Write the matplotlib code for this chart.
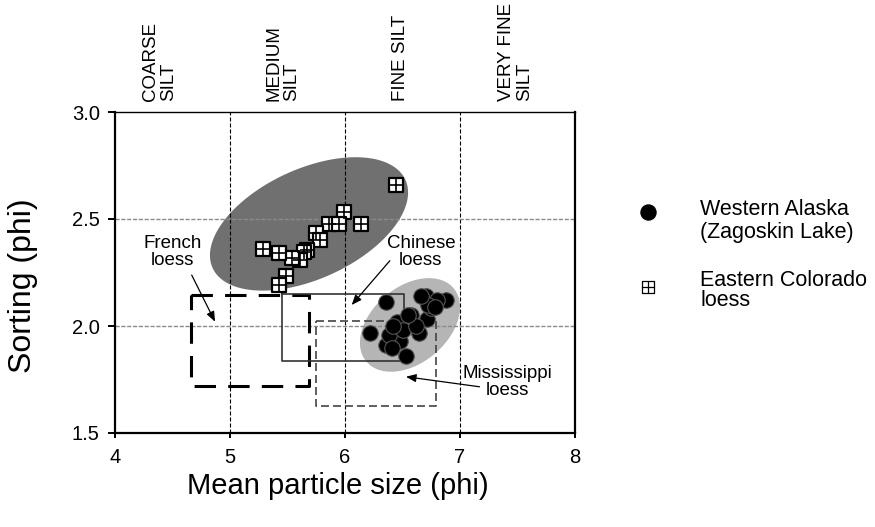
import numpy as np
import matplotlib.pyplot as plt

plt.rcParams['font.family'] = ['Liberation Sans', 'DejaVu Sans']

# Western Alaska (Zagoskin Lake) samples: mean size vs sorting, phi units
alaska_x = [6.36, 6.22, 6.53, 6.70, 6.88, 6.80, 6.57, 6.45, 6.71, 6.64, 6.36,
            6.48, 6.38, 6.50, 6.75, 6.62, 6.42, 6.41, 6.72, 6.78, 6.66, 6.55]
alaska_y = [2.11, 1.965, 1.86, 2.14, 2.12, 2.12, 2.05, 2.02, 2.035, 1.965, 1.91,
            1.93, 1.96, 1.98, 2.085, 2.0, 2.0, 1.895, 2.10, 2.09, 2.14, 2.05]

# Eastern Colorado loess samples
colorado_x = [6.44, 5.99, 5.86, 5.95, 6.14, 5.75, 5.78, 5.67, 5.64, 5.61,
              5.54, 5.43, 5.29, 5.49, 5.43]
colorado_y = [2.66, 2.535, 2.475, 2.475, 2.475, 2.435, 2.40, 2.355, 2.345, 2.31,
              2.32, 2.34, 2.36, 2.235, 2.19]

size_classes = ["COARSE\nSILT", "MEDIUM\nSILT", "FINE SILT", "VERY FINE\nSILT"]
class_pos = [4.39, 5.46, 6.48, 7.48]

x_ticks = [4, 5, 6, 7, 8]
y_ticks = [1.5, 2.0, 2.5, 3.0]

# loess fields as (xmin, xmax, ymin, ymax)
french = (4.66, 5.69, 1.72, 2.145)
chinese = (5.45, 6.51, 1.835, 2.15)
mississippi = (5.75, 6.79, 1.625, 2.025)

# envelope ellipses: centre (data), semi-axes (pixels), tilt (deg)
colorado_env = (5.687, 2.477, 106, 55, 24.6)
alaska_env = (6.565, 2.005, 57, 38, 40)

W, H, DPI = 875, 527, 100
fig = plt.figure(figsize=(W / DPI, H / DPI), dpi=DPI)
ax = fig.add_axes([115 / W, 94 / H, 460 / W, 321 / H])
ax.set_xlim(4, 8)
ax.set_ylim(1.5, 3.0)

# pixels per data unit, used to draw the ellipses
sx = 460 / 4
sy = 321 / 1.5


def ellipse_xy(cx, cy, a, b, ang):
    t = np.linspace(0, 2 * np.pi, 300)
    th = np.radians(ang)
    u = a * np.cos(t)
    v = b * np.sin(t)
    du = u * np.cos(th) - v * np.sin(th)
    dv = u * np.sin(th) + v * np.cos(th)
    return cx + du / sx, cy + dv / sy


ex, ey = ellipse_xy(*colorado_env)
ax.fill(ex, ey, color='#707070', lw=0, zorder=1)
ex, ey = ellipse_xy(*alaska_env)
ax.fill(ex, ey, color='#b5b5b5', lw=0, zorder=1)

# grid
for xv in x_ticks[1:-1]:
    ax.axvline(xv, color='black', lw=0.8, ls=(0, (3.6, 1.8)), zorder=2)
for yv in y_ticks[1:-1]:
    ax.axhline(yv, color='#8a8a8a', lw=1.0, ls=(0, (3, 1.2)), zorder=2)


def box(r, **kw):
    x0, x1, y0, y1 = r
    ax.plot([x0, x1, x1, x0, x0], [y1, y1, y0, y0, y1], **kw)


box(french, color='black', lw=2.2, ls=(0, (7, 4)), zorder=3)
box(chinese, color='#333333', lw=1.2, zorder=3)
box(mississippi, color='#444444', lw=1.2, ls=(0, (4.8, 2.4)), zorder=3)

ax.scatter(colorado_x, colorado_y, marker='s', s=92, facecolor='white',
           edgecolor='black', linewidths=1.6, zorder=4)
ax.scatter(colorado_x, colorado_y, marker='+', s=92, color='black',
           linewidths=1.2, zorder=5)
ax.scatter(alaska_x, alaska_y, marker='o', s=125, facecolor='black',
           edgecolor='#555555', linewidths=0.8, zorder=6)

# field labels with arrows
ax.text(4.50, 2.346, "French\nloess", ha='center', va='center', fontsize=13.5,
        linespacing=1.0, zorder=7)
ax.text(6.66, 2.346, "Chinese\nloess", ha='center', va='center', fontsize=13.5,
        linespacing=1.0, zorder=7)
ax.text(7.41, 1.738, "Mississippi\nloess", ha='center', va='center', fontsize=13.5,
        linespacing=1.0, zorder=7)
arrow = dict(arrowstyle='-|>,head_length=0.5,head_width=0.2', color='black',
             lw=0.9, mutation_scale=12, shrinkA=0, shrinkB=0)
ax.annotate('', xy=(4.87, 2.02), xytext=(4.667, 2.238), arrowprops=arrow, zorder=7)
ax.annotate('', xy=(6.058, 2.098), xytext=(6.39, 2.305), arrowprops=arrow, zorder=7)
ax.annotate('', xy=(6.53, 1.763), xytext=(7.17, 1.716), arrowprops=arrow, zorder=7)

# grain size classes above the plot
for lab, xp in zip(size_classes, class_pos):
    ax.text(xp, 1.034, lab, transform=ax.get_xaxis_transform(), rotation=90,
            ha='center', va='bottom', multialignment='left', fontsize=13.5,
            linespacing=1.1)

# legend
ax.scatter([1.159], [0.688], marker='o', s=117, color='black',
           transform=ax.transAxes, clip_on=False)
ax.scatter([1.159], [0.455], marker='s', s=80, facecolor='white',
           edgecolor='black', linewidths=0.9, transform=ax.transAxes, clip_on=False)
ax.scatter([1.159], [0.455], marker='+', s=80, color='black',
           linewidths=0.9, transform=ax.transAxes, clip_on=False)
ax.text(1.272, 0.729, "Western Alaska\n(Zagoskin Lake)", transform=ax.transAxes,
        ha='left', va='top', fontsize=15.5, linespacing=1.1)
ax.text(1.272, 0.508, "Eastern Colorado\nloess", transform=ax.transAxes,
        ha='left', va='top', fontsize=15.5, linespacing=0.95)

ax.set_xticks(x_ticks)
ax.set_yticks(y_ticks)
ax.set_yticklabels([f"{v:.1f}" for v in y_ticks])
ax.tick_params(axis='x', direction='out', length=3.6, width=1.4, pad=7,
               labelsize=14.5)
ax.tick_params(axis='y', direction='out', length=5, width=1.4, pad=6,
               labelsize=14.5)

for s in ['left', 'bottom', 'right']:
    ax.spines[s].set_linewidth(1.6)
ax.spines['top'].set_linewidth(1.0)

ax.set_xlabel("Mean particle size (phi)", fontsize=21)
ax.set_ylabel("Sorting (phi)", fontsize=23)
ax.xaxis.set_label_coords(0.484, -0.122)
ax.yaxis.set_label_coords(-0.167, 0.46)

fig.savefig("out.png", dpi=DPI)
